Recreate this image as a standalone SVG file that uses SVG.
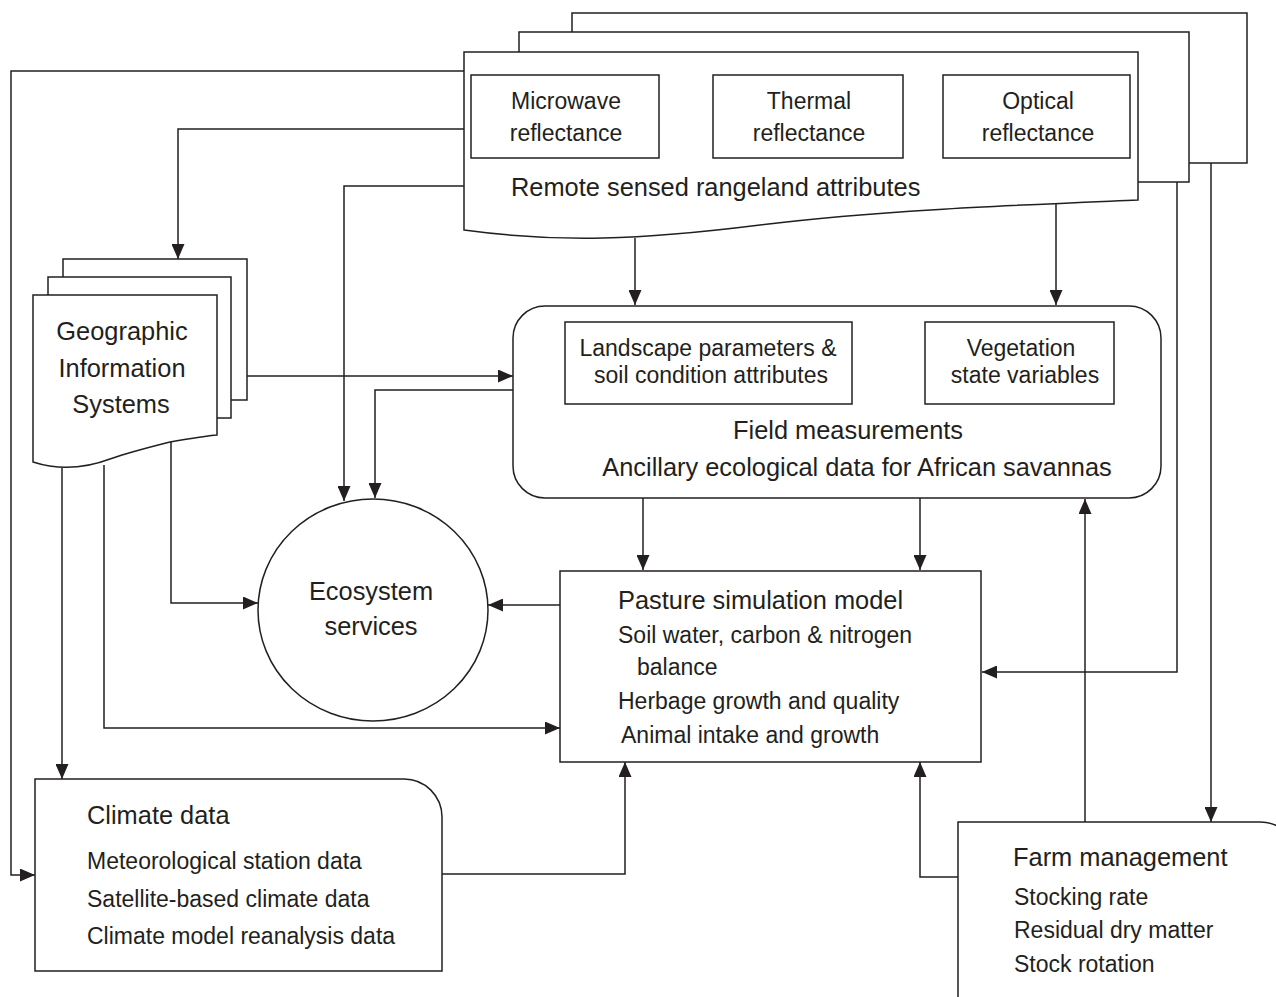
<svg xmlns="http://www.w3.org/2000/svg" width="1276" height="997" viewBox="0 0 1276 997">
<style>
.n{fill:#fff;stroke:#231f20;stroke-width:1.5}
.c{fill:none;stroke:#231f20;stroke-width:1.5}
text{font-family:"Liberation Sans",Arial,sans-serif;fill:#231f20}
.t{font-size:25.4px}
.b{font-size:23px}
.m{text-anchor:middle}
</style>
<defs>
<marker id="ah" viewBox="0 0 15 13" refX="15" refY="6.5" markerWidth="15" markerHeight="13" orient="auto" markerUnits="userSpaceOnUse"><path d="M0,0 L15,6.5 L0,13 z" fill="#231f20"/></marker>
</defs>
<rect width="1276" height="997" fill="#fff"/>
<g id="connectors">
<path class="c" marker-end="url(#ah)" d="M464,71 H11 V875 H35"/>
<path class="c" marker-end="url(#ah)" d="M464,129 H178 V259"/>
<path class="c" marker-end="url(#ah)" d="M464,186 H344 V501"/>
<path class="c" marker-end="url(#ah)" d="M513,390 H375 V498"/>
<path class="c" marker-end="url(#ah)" d="M247,376 H513"/>
<path class="c" marker-end="url(#ah)" d="M635,238 V305"/>
<path class="c" marker-end="url(#ah)" d="M1056,202 V305"/>
<path class="c" marker-end="url(#ah)" d="M1177,182 V672 H982"/>
<path class="c" marker-end="url(#ah)" d="M1211,163 V822"/>
<path class="c" marker-end="url(#ah)" d="M643,498 V570"/>
<path class="c" marker-end="url(#ah)" d="M920,498 V570"/>
<path class="c" marker-end="url(#ah)" d="M560,605 H488"/>
<path class="c" marker-end="url(#ah)" d="M171,440 V603 H258"/>
<path class="c" marker-end="url(#ah)" d="M104,465 V728 H560"/>
<path class="c" marker-end="url(#ah)" d="M62,468 V779"/>
<path class="c" marker-end="url(#ah)" d="M442,874 H625 V762"/>
<path class="c" marker-end="url(#ah)" d="M958,877 H920 V762"/>
<path class="c" marker-end="url(#ah)" d="M1085,822 V499"/>
</g>
<g id="remote-sensing">
<rect class="n" x="572" y="13" width="675" height="150"/>
<rect class="n" x="519" y="32" width="670" height="150"/>
<path class="n" d="M464,52 H1138 V200 C1020,205 880,210 760,225 C640,240 560,243 464,230 Z"/>
<rect class="n" x="471" y="75" width="188" height="83"/>
<rect class="n" x="713" y="75" width="190" height="83"/>
<rect class="n" x="943" y="75" width="187" height="83"/>
<text class="b m" x="566" y="109">Microwave</text>
<text class="b m" x="566" y="141">reflectance</text>
<text class="b m" x="809" y="109">Thermal</text>
<text class="b m" x="809" y="141">reflectance</text>
<text class="b m" x="1038" y="109">Optical</text>
<text class="b m" x="1038" y="141">reflectance</text>
<text class="t" x="511" y="196">Remote sensed rangeland attributes</text>
</g>
<g id="gis">
<rect class="n" x="63" y="259" width="184" height="141"/>
<rect class="n" x="48" y="277" width="183" height="141"/>
<path class="n" d="M33,295 H217 V435 Q205,436 170,442 Q130,452 110,459 Q70,474 33,462 Z"/>
<text class="t m" x="122" y="340">Geographic</text>
<text class="t m" x="122" y="377">Information</text>
<text class="t m" x="121" y="413">Systems</text>
</g>
<g id="field">
<rect class="n" x="513" y="306" width="648" height="192" rx="32" ry="32"/>
<rect class="n" x="565" y="322" width="287" height="82"/>
<rect class="n" x="925" y="322" width="189" height="82"/>
<text class="b m" x="708" y="356">Landscape parameters &amp;</text>
<text class="b m" x="711" y="383">soil condition attributes</text>
<text class="b m" x="1021" y="356">Vegetation</text>
<text class="b m" x="1025" y="383">state variables</text>
<text class="t m" x="848" y="439">Field measurements</text>
<text class="t m" x="857" y="476">Ancillary ecological data for African savannas</text>
</g>
<g id="ecosystem">
<ellipse class="n" cx="373" cy="610" rx="115" ry="111"/>
<text class="t m" x="371" y="600">Ecosystem</text>
<text class="t m" x="371" y="635">services</text>
</g>
<g id="pasture">
<rect class="n" x="560" y="571" width="421" height="191"/>
<text class="t" x="618" y="609">Pasture simulation model</text>
<text class="b" x="618" y="643">Soil water, carbon &amp; nitrogen</text>
<text class="b" x="637" y="675">balance</text>
<text class="b" x="618" y="709">Herbage growth and quality</text>
<text class="b" x="621" y="743">Animal intake and growth</text>
</g>
<g id="climate">
<path class="n" d="M35,779 H404 A38,38 0 0 1 442,817 V971 H35 Z"/>
<text class="t" x="87" y="824">Climate data</text>
<text class="b" x="87" y="869">Meteorological station data</text>
<text class="b" x="87" y="907">Satellite-based climate data</text>
<text class="b" x="87" y="944">Climate model reanalysis data</text>
</g>
<g id="farm">
<path class="n" d="M958,1005 V822 H1260 A38,38 0 0 1 1298,860 V1005"/>
<text class="t" x="1013" y="866">Farm management</text>
<text class="b" x="1014" y="905">Stocking rate</text>
<text class="b" x="1014" y="938">Residual dry matter</text>
<text class="b" x="1014" y="972">Stock rotation</text>
</g>
</svg>
